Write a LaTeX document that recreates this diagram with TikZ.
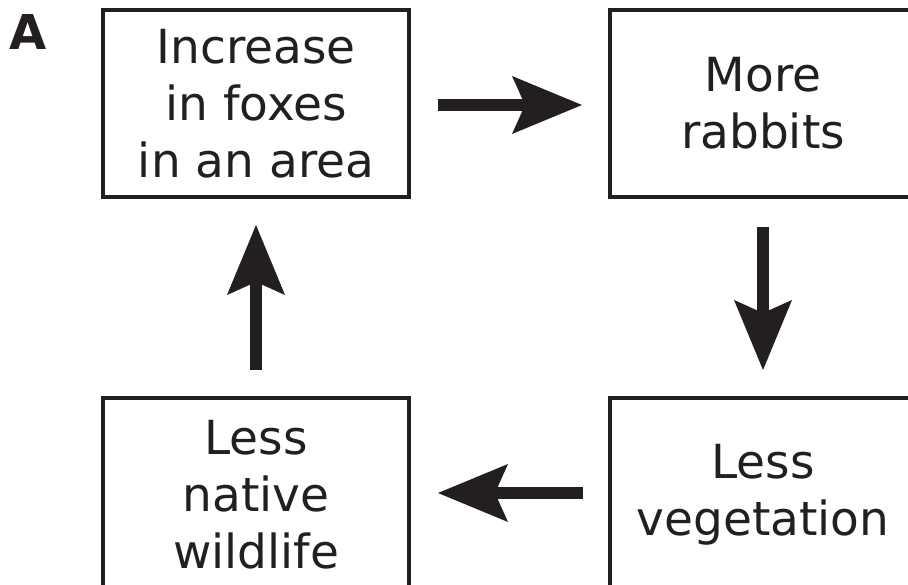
\documentclass[tikz,border=0pt]{standalone}
\usepackage{fontspec}
\setmainfont{DejaVu Sans}
\usetikzlibrary{arrows.meta}
\definecolor{ink}{HTML}{231F20}
\tikzset{
  box/.style={draw=ink, line width=4pt, minimum width=306pt, minimum height=187pt,
    inner sep=0pt, align=center, text=ink, font=\fontsize{47}{57}\selectfont},
  bigarrow/.style={draw=ink, line width=12pt,
    -{Stealth[length=70pt, width=58pt, inset=13pt, line width=0pt]}},
  label/.style={text=ink, font=\bfseries\fontsize{48}{58}\selectfont, inner sep=0pt}
}
\begin{document}
\begin{tikzpicture}[x=1pt, y=-1pt]
\useasboundingbox (0,0) rectangle (908,585);
\clip (0,0) rectangle (908,585);
\fill[white] (0,0) rectangle (908,585);
\node[label] (lab) at (28.5,32.5) {A};
\node[box] (tl) at (256,103.5) {Increase\\in foxes\\in an area};
\node[box] (tr) at (763,103.5) {More\\rabbits};
\node[box, minimum height=194pt] (bl) at (256,495) {Less\\native\\wildlife};
\node[box, minimum height=194pt] (br) at (763,495) {Less\\vegetation};
\coordinate (r1) at (438,105); \coordinate (r2) at (582,105);
\coordinate (d1) at (763,227); \coordinate (d2) at (763,370);
\coordinate (l1) at (583,493); \coordinate (l2) at (438,493);
\coordinate (u1) at (256,370); \coordinate (u2) at (256,225);
\draw[bigarrow] (r1) -- (r2);
\draw[bigarrow] (d1) -- (d2);
\draw[bigarrow] (l1) -- (l2);
\draw[bigarrow] (u1) -- (u2);
\end{tikzpicture}
\end{document}
